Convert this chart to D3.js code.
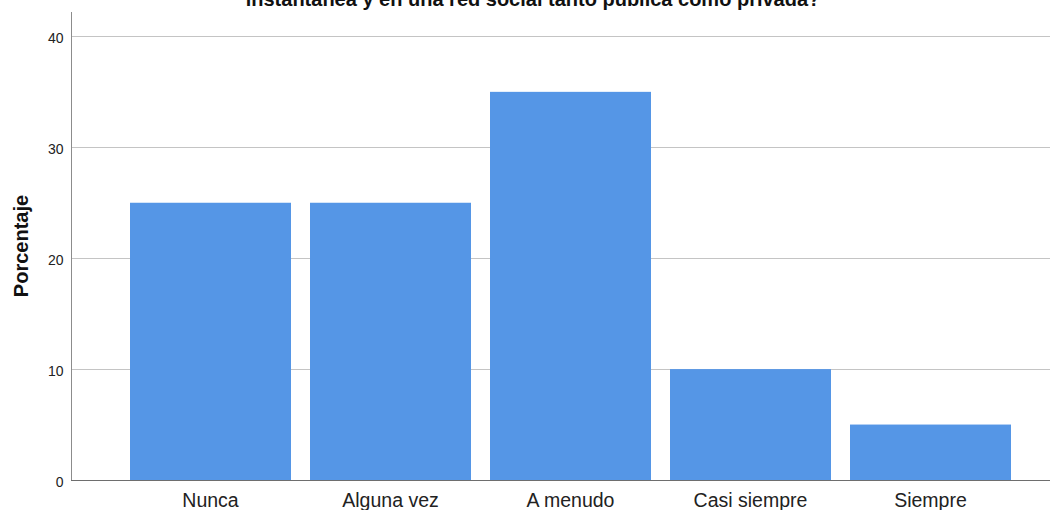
<!DOCTYPE html>
<html><head><meta charset="utf-8">
<script src="https://cdn.jsdelivr.net/npm/d3@7"></script>
<style>body{margin:0;background:#fff;}svg{display:block;font-family:"Liberation Sans",Arial,sans-serif;}</style>
</head><body>
<svg id="c" width="1058" height="510"></svg>
<script>
const categories = ["Nunca","Alguna vez","A menudo","Casi siempre","Siempre"];
const values = [25, 25, 35, 10, 5];
const yTicks = [0, 10, 20, 30, 40];
const titleVisible = "instantánea y en una red social tanto pública como privada?";
const yLabel = "Porcentaje";

(function(){
const svg = d3.select("#c");
const mLeft = 71, mRight = 1050, mTop = 12, mBottom = 480;
const y = d3.scaleLinear().domain([0, 42.2]).range([mBottom, mTop]);
const step = 180, gap = 19;
const x = d3.scaleBand().domain(categories)
  .range([120.5, 120.5 + step*categories.length])
  .paddingInner(gap/step).paddingOuter(gap/step/2);

// gridlines
svg.append("g").selectAll("line").data(yTicks.filter(d=>d>0)).join("line")
  .attr("x1", mLeft).attr("x2", mRight)
  .attr("y1", d=>Math.round(y(d))+0.5).attr("y2", d=>Math.round(y(d))+0.5)
  .attr("stroke", "#c4c4c4").attr("stroke-width", 1);

// bars
svg.append("g").selectAll("rect").data(values).join("rect")
  .attr("x", (d,i)=>x(categories[i]))
  .attr("width", x.bandwidth())
  .attr("y", d=>y(d))
  .attr("height", d=>y(0)-y(d))
  .attr("fill", "#5596e6");

// y axis
const yAxis = d3.axisLeft(y).tickValues(yTicks).tickSize(0).tickPadding(8);
const gy = svg.append("g").attr("transform", `translate(${mLeft+0.5},0)`).call(yAxis);
gy.select(".domain").attr("d", `M0,${mTop}V${mBottom}`).attr("stroke", "#8c8c8c");
gy.selectAll("text").attr("font-size", 14).attr("fill", "#222")
  .attr("dy", "0.45em")
  .attr("font-family", "Liberation Sans, Arial, sans-serif");

// x axis
const xAxis = d3.axisBottom(x).tickSize(0).tickPadding(12);
const gx = svg.append("g").attr("transform", `translate(0,${mBottom+0.5})`).call(xAxis);
gx.select(".domain").attr("d", `M${mLeft},0H${mRight}`).attr("stroke", "#6e6e6e");
gx.selectAll("text").attr("font-size", 19.5).attr("fill", "#222")
  .attr("y", 26).attr("dy", 0)
  .attr("font-family", "Liberation Sans, Arial, sans-serif");

// y label
svg.append("text").attr("transform", "translate(28,246) rotate(-90)")
  .attr("text-anchor", "middle").attr("font-size", 20).attr("font-weight", "bold")
  .attr("fill", "#111").text(yLabel);

// title (top part cut off, as in the reference)
svg.append("text").attr("x", 533).attr("y", 6).attr("text-anchor", "middle")
  .attr("font-size", 20).attr("font-weight", "bold").attr("fill", "#111").text(titleVisible);
})();
</script>
</body></html>
